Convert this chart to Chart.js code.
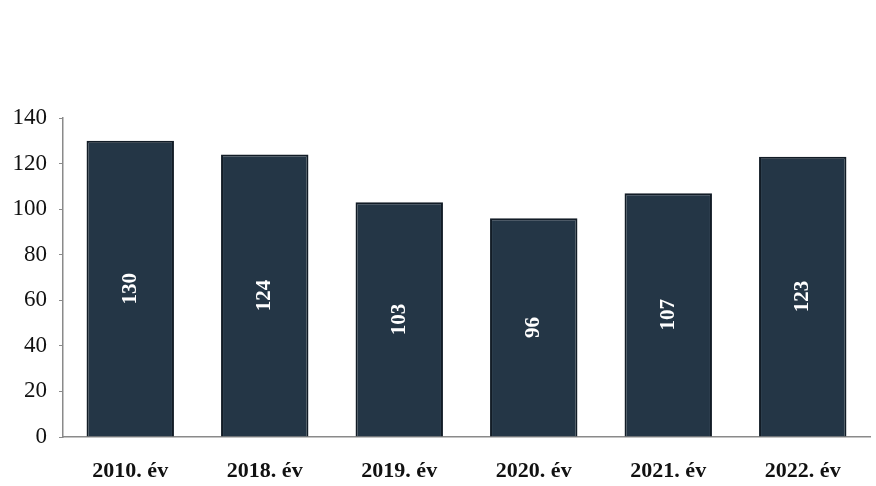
<!DOCTYPE html>
<html>
<head>
<meta charset="utf-8">
<script src="https://cdn.jsdelivr.net/npm/chart.js@4"></script>
<style>
  html, body { margin: 0; padding: 0; background: #fff; }
  #wrap { width: 876px; height: 486px; }
</style>
</head>
<body>
<div id="wrap"><canvas id="c" width="876" height="486"></canvas></div>
<script>
// adatok
var categories = ['2010. év', '2018. év', '2019. év', '2020. év', '2021. év', '2022. év']
var values = [130, 124, 103, 96, 107, 123]
var yTicks = [0, 20, 40, 60, 80, 100, 120, 140]

// value label, rotated, in the middle of every bar
const barLabels = {
  id: 'barLabels',
  afterDatasetsDraw(chart) {
    const ctx = chart.ctx
    const meta = chart.getDatasetMeta(0)
    ctx.save()
    ctx.fillStyle = '#ffffff'
    ctx.font = 'bold 21px "Liberation Serif", serif'
    ctx.textAlign = 'center'
    ctx.textBaseline = 'middle'
    meta.data.forEach((bar, i) => {
      const mid = (bar.y + bar.base) / 2
      ctx.save()
      ctx.translate(bar.x, mid)
      ctx.rotate(-Math.PI / 2)
      ctx.fillText(values[i], 0, 0)
      ctx.restore()
    })
    ctx.restore()
  }
}

new Chart(document.getElementById('c').getContext('2d'), {
  type: 'bar',
  data: {
    labels: categories,
    datasets: [{
      data: values,
      backgroundColor: '#243646',
      borderColor: '#121c26',
      borderWidth: 2,
      categoryPercentage: 1,
      barPercentage: 0.65
    }]
  },
  options: {
    responsive: false,
    animation: false,
    layout: { padding: { top: 118, right: 6, left: 0, bottom: 0 } },
    plugins: { legend: { display: false }, tooltip: { enabled: false } },
    scales: {
      x: {
        grid: { display: false },
        border: { color: '#8a8a8a', width: 1.5 },
        ticks: {
          color: '#111',
          font: { family: '"Liberation Serif", serif', size: 22, weight: 'bold' },
          padding: 13
        },
        afterFit: (s) => { s.height = 49 }
      },
      y: {
        min: 0,
        max: 140,
        afterBuildTicks: (s) => { s.ticks = yTicks.map(v => ({ value: v })) },
        grid: { drawOnChartArea: false, tickLength: 4, color: '#8a8a8a' },
        border: { color: '#8a8a8a', width: 1.5 },
        ticks: {
          color: '#111',
          font: { family: '"Liberation Serif", serif', size: 23 },
          padding: 12
        },
        afterFit: (s) => { s.width = 63 }
      }
    }
  },
  plugins: [barLabels]
})
</script>
</body>
</html>
